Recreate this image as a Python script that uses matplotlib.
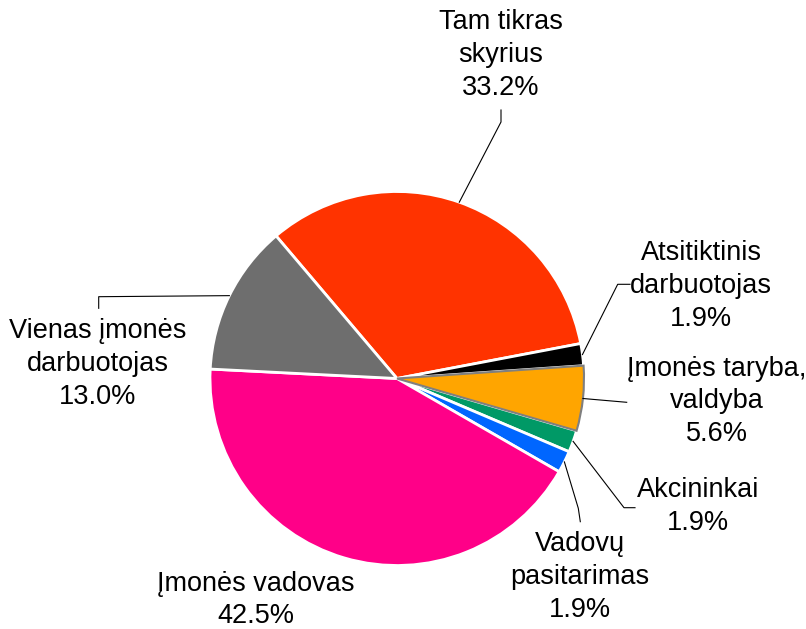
import numpy as np
import matplotlib
matplotlib.use("Agg")
import matplotlib.pyplot as plt

W, H = 806, 629

# data
categories = ["Tam tikras\nskyrius", "Atsitiktinis\ndarbuotojas", "Įmonės taryba,\nvaldyba",
              "Akcininkai", "Vadovų\npasitarimas", "Įmonės vadovas", "Vienas įmonės\ndarbuotojas"]
shares = [33.2, 1.9, 5.6, 1.9, 1.9, 42.5, 13.0]
colors = ["#FF3300", "#000000", "#FFA500", "#009966", "#0066FF", "#FF0088", "#6E6E6E"]

# layout (pixels from top-left)
center_px = (397, 378.5)
radius_px = 187
label_pos = [(501, 55), (701, 286), (717, 401.5), (698, 506.5), (580, 577), (256, 600), (98, 364)]
# leader lines: elbow point, end point (None = no leader)
leaders = [((501, 122), (501, 110)),
           ((617.7, 284.3), (630, 284.3)),
           ((626.7, 402.3), (626.7, 402.3)),
           ((624, 507.7), (635, 507.7)),
           ((578.3, 508.3), (580.3, 521.7)),
           None,
           ((98.7, 296.7), (98.7, 308.3))]


def px(p):
    return (p[0], H - p[1])


plt.rcParams['font.family'] = ['Liberation Sans', 'DejaVu Sans']

fig = plt.figure(figsize=(W / 100, H / 100), dpi=100)
ax = fig.add_axes([0, 0, 1, 1])

wedges, _ = ax.pie(shares, colors=colors, startangle=130.3, counterclock=False,
                   center=px(center_px), radius=radius_px,
                   wedgeprops=dict(edgecolor="white", linewidth=2))
# the board slice has a grey rim
wedges[2].set_edgecolor("#7F7F7F")
wedges[2].set_linewidth(1.5)
wedges[2].set_zorder(3)

cx, cy = px(center_px)
for i, w in enumerate(wedges):
    txt = categories[i] + "\n" + f"{shares[i]:.1f}%"
    ax.text(*px(label_pos[i]), txt, ha="center", va="center", fontsize=19.5,
            linespacing=1.33, color="#000000")
    if leaders[i] is None:
        continue
    mid = np.deg2rad((w.theta1 + w.theta2) / 2)
    ax_pt = (cx + radius_px * np.cos(mid), cy + radius_px * np.sin(mid))
    el = px(leaders[i][0])
    en = px(leaders[i][1])
    ax.plot([ax_pt[0], el[0], en[0]], [ax_pt[1], el[1], en[1]], color="black", lw=0.8, zorder=4)

ax.set_xlim(0, W)
ax.set_ylim(0, H)
ax.set_aspect("equal")
ax.axis("off")

fig.savefig("out.png", dpi=100, facecolor="white")
